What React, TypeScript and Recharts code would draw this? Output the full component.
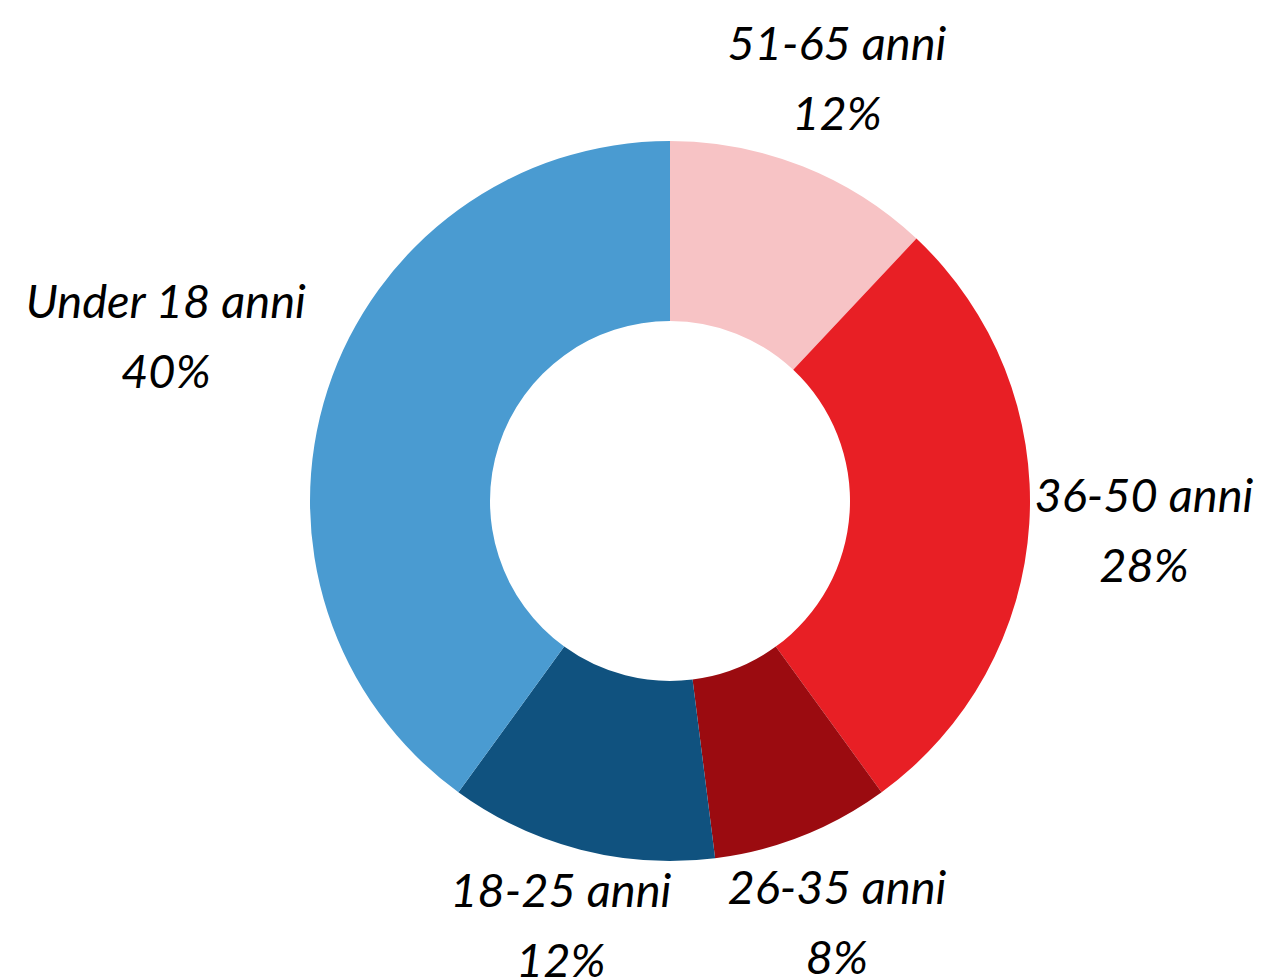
import { Cell, Pie, PieChart } from "recharts";

const groups = ["51-65 anni", "36-50 anni", "26-35 anni", "18-25 anni", "Under 18 anni"];
const shares = [12, 28, 8, 12, 40];
const colors = ["#F7C3C5", "#E81F25", "#9B0B10", "#10527F", "#4A9BD1"];

const data = groups.map((name, i) => ({ name, value: shares[i] }));

const RAD = Math.PI / 180;

// two-line label, pushed out so the text block clears the ring
const renderLabel = (props: any) => {
  const { cx, cy, midAngle, index } = props;
  const name = groups[index];
  const cos = Math.cos(-midAngle * RAD);
  const sin = Math.sin(-midAngle * RAD);
  const d = 323 + Math.abs(cos) * name.length * 14.7 + Math.abs(sin) * 82;
  const x = cx + d * cos;
  const y = cy + d * sin;
  return (
    <text
      x={x}
      y={y - 19}
      textAnchor="middle"
      fill="#000"
      fontFamily="Lato, 'Noto Sans', sans-serif"
      fontStyle="italic"
      fontSize={47}
    >
      <tspan x={x}>{name}</tspan>
      <tspan x={x} dy={70}>
        {shares[index]}%
      </tspan>
    </text>
  );
};

export default function App() {
  return (
    <div style={{ position: "absolute", left: 0, top: 0, width: 1272, height: 979, background: "#fff" }}>
      <PieChart width={1272} height={979} margin={{ top: 0, right: 0, bottom: 0, left: 0 }}>
        <Pie
          data={data}
          dataKey="value"
          nameKey="name"
          cx={670}
          cy={501}
          innerRadius={180}
          outerRadius={360}
          startAngle={90}
          endAngle={-270}
          stroke="none"
          label={renderLabel}
          labelLine={false}
          isAnimationActive={false}
        >
          {data.map((d, i) => (
            <Cell key={d.name} fill={colors[i]} />
          ))}
        </Pie>
      </PieChart>
    </div>
  );
}
